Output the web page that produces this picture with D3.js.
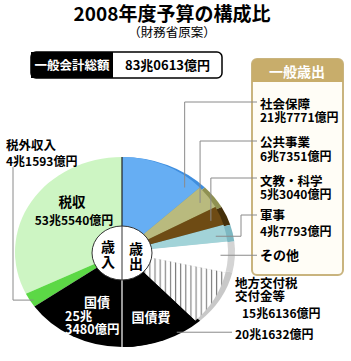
<!DOCTYPE html>
<html>
<head>
<meta charset="utf-8">
<script src="https://cdn.jsdelivr.net/npm/d3@7"></script>
<style>
  body { margin: 0; background: #fff; }
  text { font-family: "Noto Sans CJK JP", "Noto Sans", sans-serif; }
</style>
</head>
<body>
<svg id="chart" width="351" height="361"></svg>
<script>
// values in 億円
var revenueNames = ["税収", "税外収入", "国債"];
var revenueValues = [535540, 41593, 253480];
var revenueColors = ["#cdf5c3", "#5cd846", "#000000"];

var spendNames = ["社会保障", "公共事業", "文教・科学", "軍事", "その他", "地方交付税交付金等", "国債費"];
var spendValues = [217771, 67351, 53040, 47793, 86890, 156136, 201632];
var spendFace = ["#66aef3", "#b9ba7e", "#6e4b14", "#a2d3d8", "#ffffff", "url(#hatch)", "#000000"];
var spendRim = ["#3f8ede", "#8f9152", "#45300a", "#7db8c2", "#d4d4d4", "#c8c8c8", "#000000"];
var spendLabels = ["21兆7771億円", "6兆7351億円", "5兆3040億円", "4兆7793億円", "", "15兆6136億円", "20兆1632億円"];

var totalLabel = "83兆0613億円";

var svg = d3.select("#chart");

// hatch for 地方交付税
var defs = svg.append("defs");
var pat = defs.append("pattern")
  .attr("id", "hatch")
  .attr("patternUnits", "userSpaceOnUse")
  .attr("width", 4.6)
  .attr("height", 10);
pat.append("rect").attr("width", 4.6).attr("height", 10).attr("fill", "#fff");
pat.append("line").attr("x1", 2).attr("x2", 2).attr("y1", 0).attr("y2", 10)
  .attr("stroke", "#7a7a7a").attr("stroke-width", 1);

// title
svg.append("text")
  .attr("x", 172).attr("y", 21)
  .attr("text-anchor", "middle")
  .attr("font-size", "19px").attr("font-weight", "bold")
  .text("2008年度予算の構成比");
svg.append("text")
  .attr("x", 172).attr("y", 37)
  .attr("text-anchor", "middle")
  .attr("font-size", "12.5px")
  .text("（財務省原案）");

// total box
svg.append("rect")
  .attr("x", 31).attr("y", 52).attr("width", 191).attr("height", 26)
  .attr("rx", 5)
  .attr("fill", "#fff").attr("stroke", "#000").attr("stroke-width", 1.5);
svg.append("rect")
  .attr("x", 31).attr("y", 52).attr("width", 82).attr("height", 26)
  .attr("fill", "#000");
svg.append("text")
  .attr("x", 72).attr("y", 70)
  .attr("text-anchor", "middle")
  .attr("fill", "#fff").attr("font-size", "12.5px").attr("font-weight", "bold")
  .text("一般会計総額");
svg.append("text")
  .attr("x", 125).attr("y", 70)
  .attr("font-size", "13px").attr("font-weight", "bold")
  .text(totalLabel);

// legend box (一般歳出)
svg.append("rect")
  .attr("x", 252).attr("y", 59).attr("width", 91).attr("height", 216)
  .attr("rx", 5)
  .attr("fill", "#fffdf6").attr("stroke", "#c9b47e").attr("stroke-width", 2);
svg.append("path")
  .attr("d", "M252,82 V64 a5,5 0 0 1 5,-5 H338 a5,5 0 0 1 5,5 V82 Z")
  .attr("fill", "#c8ad6b");
svg.append("text")
  .attr("x", 297).attr("y", 77)
  .attr("text-anchor", "middle")
  .attr("fill", "#fff").attr("font-size", "14px").attr("font-weight", "bold")
  .text("一般歳出");

// pie geometry
var cx = 122, cy = 252, ry = 95;
var sxLeft = 107 / ry, sxRim = 113 / ry, sxFace = 106 / ry;

var arc = d3.arc().innerRadius(0).outerRadius(ry);

var leftPie = d3.pie().sort(null).startAngle(0).endAngle(-Math.PI);
var rightPie = d3.pie().sort(null).startAngle(0).endAngle(Math.PI);
var leftArcs = leftPie(revenueValues);
var rightArcs = rightPie(spendValues);

var pieG = svg.append("g").attr("transform", "translate(" + cx + "," + cy + ")");

pieG.append("g").attr("transform", "scale(" + sxLeft + ",1)")
  .selectAll("path").data(leftArcs).enter().append("path")
  .attr("d", arc)
  .attr("fill", (d, i) => revenueColors[i]);

pieG.append("g").attr("transform", "scale(" + sxRim + ",1)")
  .selectAll("path").data(rightArcs).enter().append("path")
  .attr("d", arc)
  .attr("fill", (d, i) => spendRim[i]);

pieG.append("g").attr("transform", "scale(" + sxFace + ",1)")
  .selectAll("path").data(rightArcs).enter().append("path")
  .attr("d", arc)
  .attr("fill", (d, i) => spendFace[i]);

// divider
svg.append("line")
  .attr("x1", cx).attr("x2", cx).attr("y1", cy - ry).attr("y2", cy)
  .attr("stroke", "#222").attr("stroke-width", 1.2);
svg.append("line")
  .attr("x1", cx).attr("x2", cx).attr("y1", cy).attr("y2", cy + ry)
  .attr("stroke", "#fff").attr("stroke-width", 1.2);

// point inside a slice: t along the angle, r as share of radius
function slicePoint(d, t, r, sx) {
  var a = d.startAngle + (d.endAngle - d.startAngle) * t;
  return [cx + Math.sin(a) * ry * r * sx, cy - Math.cos(a) * ry * r];
}

var lineColor = "#8a8a8a";
function leader(pts) {
  svg.append("path")
    .attr("d", d3.line()(pts))
    .attr("fill", "none")
    .attr("stroke", lineColor)
    .attr("stroke-width", 1);
}

var legendX = 257;
// 社会保障, 公共事業, 文教・科学: straight up then right
[[0, 0.87, 102], [1, 0.53, 141], [2, 0.6, 178]].forEach(function (s) {
  var p = slicePoint(rightArcs[s[0]], s[1], 0.9, sxFace);
  leader([p, [p[0], s[2]], [legendX, s[2]]]);
});
// 軍事
var pm = slicePoint(rightArcs[3], 0.59, 0.9, sxFace);
leader([pm, [241, pm[1]], [241, 215], [legendX, 215]]);
// その他
var po = slicePoint(rightArcs[4], 0.45, 0.93, sxFace);
leader([po, [legendX, po[1]]]);
// 国債費
var pd = slicePoint(rightArcs[6], 0.28, 0.99, sxFace);
leader([pd, [232, pd[1]]]);
// 税外収入
var pn = slicePoint(leftArcs[1], 0.6, 0.97, sxLeft);
leader([pn, [13, pn[1]], [13, 167]]);

// centre disc
svg.append("ellipse")
  .attr("cx", cx).attr("cy", cy + 1).attr("rx", 30).attr("ry", 27)
  .attr("fill", "#fff").attr("stroke", "#333").attr("stroke-width", 1);
svg.append("line")
  .attr("x1", cx).attr("x2", cx).attr("y1", cy - 26).attr("y2", cy + 28)
  .attr("stroke", "#333").attr("stroke-width", 1);

function label(x, y, str, opts) {
  opts = opts || {};
  svg.append("text")
    .attr("x", x).attr("y", y)
    .attr("text-anchor", opts.anchor || "start")
    .attr("fill", opts.fill || "#000")
    .attr("font-size", opts.size || "12px")
    .attr("font-weight", opts.weight || "bold")
    .text(str);
}

label(108, 252, "歳", { anchor: "middle", size: "14px" });
label(108, 267, "入", { anchor: "middle", size: "14px" });
label(136, 254, "歳", { anchor: "middle", size: "14px" });
label(136, 269, "出", { anchor: "middle", size: "14px" });

// legend labels
label(260, 109, spendNames[0], { size: "12.5px" });
label(260, 122, spendLabels[0]);
label(260, 147, spendNames[1], { size: "12.5px" });
label(260, 161, spendLabels[1]);
label(260, 186, spendNames[2], { size: "12.5px" });
label(260, 199, spendLabels[2]);
label(260, 220, spendNames[3], { size: "12.5px" });
label(260, 236, spendLabels[3]);
label(260, 260, spendNames[4], { size: "13px" });

// 地方交付税交付金等
label(235, 288, "地方交付税", { size: "12.5px" });
label(235, 301, "交付金等", { size: "12.5px" });
label(242, 318, spendLabels[5]);
label(235, 339, spendLabels[6]);
label(151, 322, spendNames[6], { anchor: "middle", fill: "#fff", size: "13px" });

// revenue labels
label(6, 150, revenueNames[1], { size: "12.5px" });
label(6, 166, "4兆1593億円");
label(72, 207, revenueNames[0], { anchor: "middle", size: "13.5px" });
label(74, 225, "53兆5540億円", { anchor: "middle" });
label(97, 307, revenueNames[2], { anchor: "middle", fill: "#fff", size: "13px" });
label(65, 321, "25兆", { fill: "#fff", size: "12.5px" });
label(65, 334, "3480億円", { fill: "#fff", size: "12.5px" });
</script>
</body>
</html>
